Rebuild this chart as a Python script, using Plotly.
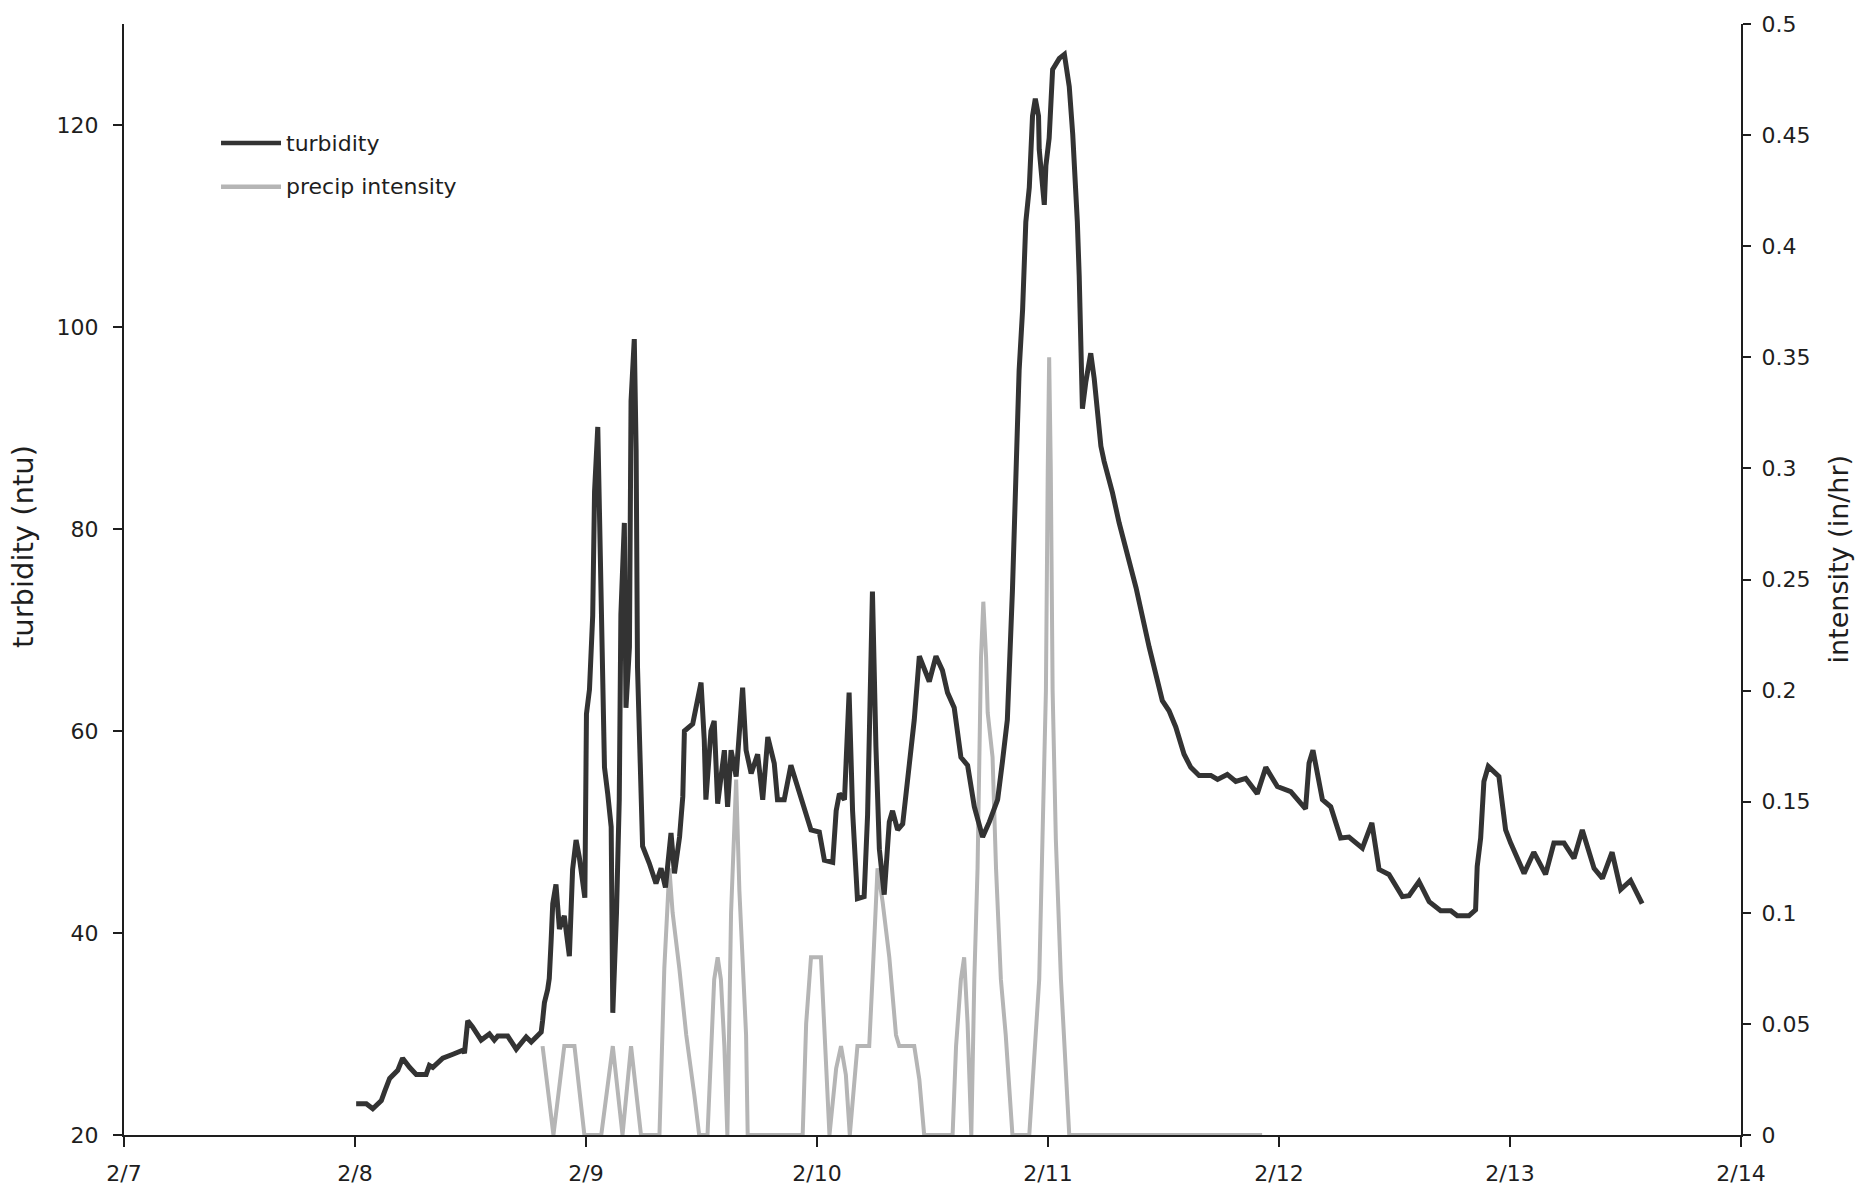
import plotly.graph_objects as go

# Turbidity record (day of February, NTU)
turb_day = [
    8.005, 8.049, 8.077, 8.114, 8.128, 8.150, 8.185, 8.206, 8.236, 8.265,
    8.308, 8.322, 8.337, 8.380, 8.424, 8.467, 8.474, 8.488, 8.509, 8.546,
    8.582, 8.603, 8.618, 8.661, 8.698, 8.741, 8.763, 8.806, 8.812, 8.820,
    8.834, 8.841, 8.849, 8.856, 8.870, 8.885, 8.906, 8.928, 8.942, 8.957,
    8.971, 8.986, 8.995, 9.002, 9.015, 9.029, 9.037, 9.051, 9.066, 9.080,
    9.094, 9.109, 9.116, 9.132, 9.144, 9.151, 9.166, 9.173, 9.188, 9.195,
    9.209, 9.217, 9.223, 9.238, 9.245, 9.274, 9.303, 9.325, 9.344, 9.368,
    9.383, 9.405, 9.419, 9.426, 9.462, 9.476, 9.498, 9.512, 9.519, 9.541,
    9.555, 9.570, 9.599, 9.613, 9.628, 9.650, 9.678, 9.693, 9.715, 9.743,
    9.765, 9.787, 9.815, 9.829, 9.858, 9.887, 9.931, 9.974, 10.010, 10.032,
    10.068, 10.083, 10.097, 10.119, 10.139, 10.154, 10.175, 10.204, 10.219, 10.240,
    10.255, 10.270, 10.291, 10.313, 10.327, 10.349, 10.371, 10.392, 10.421, 10.443,
    10.464, 10.486, 10.515, 10.543, 10.565, 10.594, 10.623, 10.652, 10.681, 10.717,
    10.746, 10.782, 10.803, 10.824, 10.846, 10.861, 10.875, 10.890, 10.897, 10.904,
    10.919, 10.933, 10.945, 10.959, 10.962, 10.984, 10.991, 11.005, 11.020, 11.049,
    11.071, 11.092, 11.107, 11.117, 11.127, 11.135, 11.142, 11.149, 11.164, 11.185,
    11.200, 11.214, 11.229, 11.243, 11.279, 11.308, 11.344, 11.381, 11.438, 11.473,
    11.495, 11.524, 11.553, 11.589, 11.618, 11.654, 11.705, 11.734, 11.776, 11.813,
    11.856, 11.906, 11.943, 11.993, 12.051, 12.115, 12.130, 12.147, 12.188, 12.224,
    12.267, 12.303, 12.361, 12.402, 12.433, 12.476, 12.534, 12.563, 12.606, 12.650,
    12.700, 12.744, 12.772, 12.822, 12.851, 12.858, 12.873, 12.887, 12.906, 12.952,
    12.981, 13.003, 13.061, 13.103, 13.154, 13.190, 13.234, 13.277, 13.313, 13.364,
    13.400, 13.442, 13.479, 13.522, 13.572,
]
turb_ntu = [
    23.1, 23.1, 22.6, 23.4, 24.3, 25.6, 26.4, 27.6, 26.7, 26.0,
    26.0, 26.9, 26.7, 27.6, 28.0, 28.4, 28.1, 31.3, 30.7, 29.4,
    30.0, 29.4, 29.8, 29.8, 28.5, 29.7, 29.2, 30.2, 31.3, 33.1,
    34.4, 35.5, 39.2, 42.9, 44.8, 40.4, 41.7, 37.7, 46.3, 49.2,
    47.5, 45.0, 43.5, 61.7, 64.1, 71.4, 83.7, 90.1, 69.9, 56.4,
    53.8, 50.5, 32.1, 42.0, 53.2, 71.5, 80.6, 62.3, 68.3, 92.7,
    98.8, 87.8, 66.3, 53.3, 48.6, 46.9, 44.9, 46.4, 44.5, 49.9,
    45.9, 49.5, 53.5, 60.0, 60.7, 62.3, 64.8, 59.1, 53.2, 60.0,
    61.0, 52.8, 58.1, 52.5, 58.1, 55.5, 64.3, 58.1, 55.8, 57.7,
    53.2, 59.4, 56.8, 53.2, 53.2, 56.6, 53.2, 50.2, 50.0, 47.2,
    47.0, 52.1, 53.8, 53.2, 63.8, 52.1, 43.4, 43.6, 51.7, 73.8,
    58.5, 48.3, 43.8, 51.0, 52.1, 50.2, 50.8, 55.1, 61.1, 67.4,
    66.0, 64.9, 67.4, 66.0, 63.8, 62.3, 57.4, 56.6, 52.5, 49.5,
    51.0, 53.2, 57.0, 61.1, 73.9, 84.0, 95.7, 101.7, 106.6, 110.4,
    113.8, 120.9, 122.6, 120.9, 117.6, 112.1, 116.0, 118.7, 125.5, 126.6,
    127.0, 123.8, 119.1, 115.3, 110.4, 105.1, 99.9, 91.9, 94.6, 97.4,
    94.9, 91.6, 88.2, 86.7, 83.6, 80.6, 77.6, 74.2, 68.3, 65.0,
    63.0, 62.0, 60.4, 57.7, 56.4, 55.6, 55.6, 55.2, 55.7, 55.0,
    55.3, 53.8, 56.4, 54.5, 54.0, 52.3, 56.8, 58.1, 53.2, 52.5,
    49.4, 49.5, 48.4, 50.9, 46.3, 45.8, 43.6, 43.7, 45.1, 43.1,
    42.2, 42.2, 41.7, 41.7, 42.3, 46.6, 49.4, 55.0, 56.5, 55.5,
    50.2, 48.9, 45.9, 48.0, 45.8, 48.9, 48.9, 47.4, 50.2, 46.4,
    45.4, 48.0, 44.3, 45.2, 42.9,
]

# Precipitation intensity (day of February, in/hr)
precip_day = [
    8.812, 8.859, 8.906, 8.950, 8.993, 9.066, 9.116, 9.158, 9.195, 9.238,
    9.318, 9.339, 9.361, 9.375, 9.404, 9.434, 9.469, 9.490, 9.526, 9.555,
    9.570, 9.584, 9.599, 9.612, 9.628, 9.650, 9.664, 9.678, 9.693, 9.700,
    9.938, 9.953, 9.974, 10.017, 10.032, 10.054, 10.083, 10.104, 10.125, 10.142,
    10.175, 10.226, 10.240, 10.262, 10.284, 10.313, 10.342, 10.356, 10.421, 10.443,
    10.464, 10.587, 10.602, 10.623, 10.637, 10.652, 10.668, 10.681, 10.695, 10.703,
    10.710, 10.720, 10.732, 10.739, 10.760, 10.775, 10.796, 10.817, 10.846, 10.919,
    10.962, 10.976, 10.991, 10.999, 11.005, 11.012, 11.020, 11.034, 11.056, 11.092,
    11.927,
]
precip_inhr = [
    0.04, 0.0, 0.04, 0.04, 0.0, 0.0, 0.04, 0.0, 0.04, 0.0,
    0.0, 0.075, 0.12, 0.10, 0.075, 0.045, 0.018, 0.0, 0.0, 0.07,
    0.08, 0.07, 0.04, 0.0, 0.10, 0.16, 0.11, 0.08, 0.045, 0.0,
    0.0, 0.05, 0.08, 0.08, 0.05, 0.0, 0.03, 0.04, 0.027, 0.0,
    0.04, 0.04, 0.07, 0.12, 0.105, 0.08, 0.045, 0.04, 0.04, 0.025,
    0.0, 0.0, 0.04, 0.07, 0.08, 0.05, 0.0, 0.07, 0.12, 0.17,
    0.215, 0.24, 0.215, 0.19, 0.17, 0.12, 0.07, 0.045, 0.0, 0.0,
    0.07, 0.133, 0.2, 0.3, 0.35, 0.3, 0.2, 0.133, 0.07, 0.0,
    0.0,
]

# Date axis ticks
tick_days = [7, 8, 9, 10, 11, 12, 13, 14]
tick_text = ["2/7", "2/8", "2/9", "2/10", "2/11", "2/12", "2/13", "2/14"]

FONT = "DejaVu Sans"
INK = "#1e1e1e"
TURB_COLOR = "#333333"
RAIN_COLOR = "#b5b5b5"

fig = go.Figure()

fig.add_trace(go.Scatter(
    x=turb_day, y=turb_ntu, mode="lines", name="turbidity",
    line=dict(color=TURB_COLOR, width=5), yaxis="y2",
))
fig.add_trace(go.Scatter(
    x=precip_day, y=precip_inhr, mode="lines", name="precip intensity",
    line=dict(color=RAIN_COLOR, width=4), yaxis="y",
))

axis_common = dict(
    showgrid=False, zeroline=False, showline=True,
    linecolor=INK, linewidth=2, tickcolor=INK, tickwidth=2,
    tickfont=dict(family=FONT, size=22, color=INK),
)

# Legend block: short line sample followed by its label
legend_rows = [("turbidity", TURB_COLOR, 0.8928), ("precip intensity", RAIN_COLOR, 0.8534)]
legend_shapes = []
legend_notes = []
for label, color, yy in legend_rows:
    legend_shapes.append(dict(
        type="line", xref="paper", yref="paper",
        x0=0.0600, x1=0.0971, y0=yy, y1=yy,
        line=dict(color=color, width=4.5),
    ))
    legend_notes.append(dict(
        text=label, xref="paper", yref="paper", x=0.0988, y=yy,
        xanchor="left", yanchor="middle", showarrow=False,
        font=dict(family=FONT, size=22, color=INK),
    ))

fig.update_layout(
    width=1875, height=1198,
    margin=dict(l=124, r=134, t=21, b=58),
    paper_bgcolor="white", plot_bgcolor="white",
    showlegend=False,
    xaxis=dict(
        range=[7, 14], tickvals=tick_days, ticktext=tick_text,
        ticks="outside", ticklen=10, ticklabelstandoff=8,
        **axis_common,
    ),
    # precipitation on the right
    yaxis=dict(
        range=[0, 0.5], side="right", dtick=0.05, tick0=0,
        ticks="outside", ticklen=8, ticklabelstandoff=6,
        **axis_common,
    ),
    # turbidity on the left, drawn above the precipitation
    yaxis2=dict(
        range=[20, 130], side="left", overlaying="y",
        tickvals=[20, 40, 60, 80, 100, 120],
        ticks="outside", ticklen=9, ticklabelstandoff=10,
        **axis_common,
    ),
    # inner half of the crossing ticks on the right axis
    yaxis3=dict(
        range=[0, 0.5], side="right", overlaying="y", dtick=0.05, tick0=0,
        ticks="inside", ticklen=8, tickcolor=INK, tickwidth=2,
        showticklabels=False, showline=False, showgrid=False, zeroline=False,
    ),
    shapes=legend_shapes,
    annotations=legend_notes + [
        dict(text="turbidity (ntu)", xref="paper", yref="paper",
             x=-0.0625, y=0.53, textangle=-90, showarrow=False,
             xanchor="center", yanchor="middle",
             font=dict(family=FONT, size=29, color=INK)),
        dict(text="intensity (in/hr)", xref="paper", yref="paper",
             x=1.0600, y=0.518, textangle=-90, showarrow=False,
             xanchor="center", yanchor="middle",
             font=dict(family=FONT, size=27, color=INK)),
    ],
)

fig.write_html("out.html")
